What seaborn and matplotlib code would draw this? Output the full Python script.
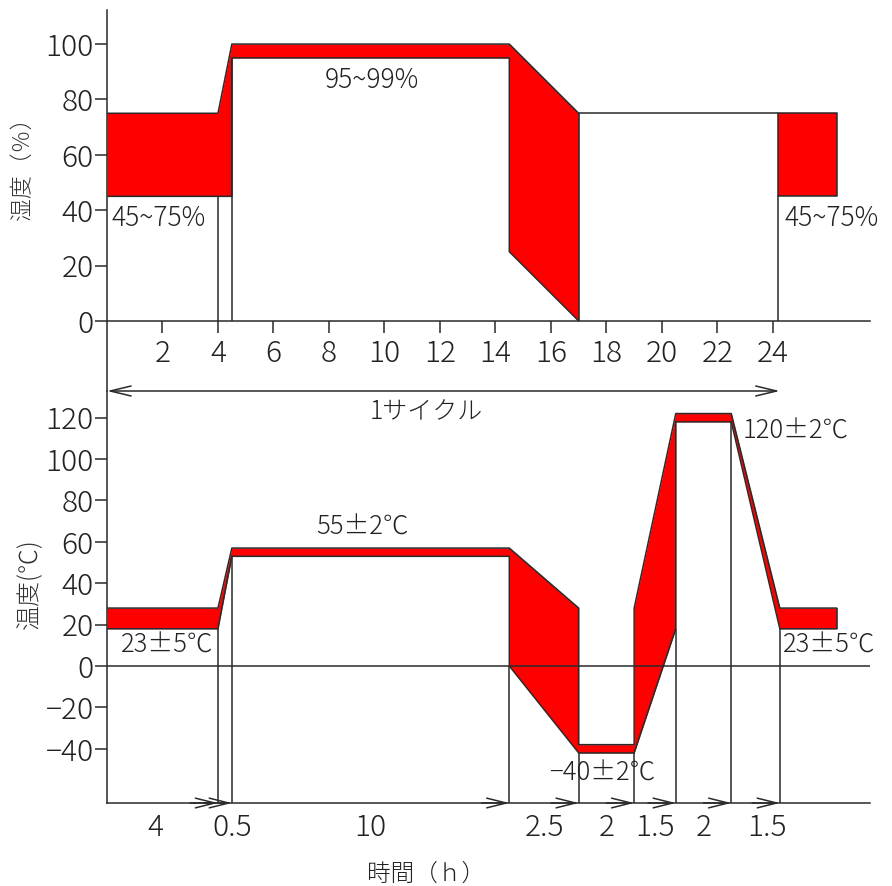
import numpy as np
import pandas as pd
import matplotlib
matplotlib.use("Agg")
import matplotlib.pyplot as plt
import seaborn as sns

# ---- humidity profile (%) over one cycle, hours ----
hum_x = [0, 4, 4.5, 4.5, 14.5, 14.5, 17]
hum_hi = [75, 75, 100, 100, 100, 100, 75]
hum_lo = [45, 45, 45, 95, 95, 25, 0]
hum_end_x = [24.2, 26.3]
hum_end_hi = [75, 75]
hum_end_lo = [45, 45]
hum_guide_x = [4, 4.5, 17, 24.2]
hum_guide_top = [45, 95, 75, 75]
hum_ticks = [0, 20, 40, 60, 80, 100]
hour_ticks = [2, 4, 6, 8, 10, 12, 14, 16, 18, 20, 22, 24]

# ---- temperature profile (degC) ----
tmp_x = [0, 4, 4.5, 14.5, 14.5, 17, 17, 19, 19, 20.5, 20.5, 22.5, 24.25, 26.3]
tmp_hi = [28, 28, 57, 57, 57, 28, -38, -38, 28, 122, 122, 122, 28, 28]
tmp_lo = [18, 18, 53, 53, 0, -42, -42, -42, -42, 18, 118, 118, 18, 18]
step_bounds = [4, 4.5, 14.5, 17, 19, 20.5, 22.5, 24.25]
step_guide_top = [18, 53, 0, -42, -42, 18, 118, 18]
step_labels = ["4", "0.5", "10", "2.5", "2", "1.5", "2", "1.5"]
tmp_ticks = [-40, -20, 0, 20, 40, 60, 80, 100, 120]

RED = "#ff0000"
LINE = "#2a2a2a"
TXT = "#222222"
LW = 1.1

sns.set_theme(style="white")
plt.rcParams["font.family"] = ["Noto Sans CJK JP", "DejaVu Sans"]
plt.rcParams["font.weight"] = "light"
plt.rcParams["axes.unicode_minus"] = True

W, H = 892, 886
fig = plt.figure(figsize=(W / 100, H / 100), dpi=100)
ax_top = fig.add_axes([107 / W, 1 - 391 / H, 763 / W, 381 / H])
ax_bot = fig.add_axes([107 / W, 1 - 803 / H, 763 / W, 412 / H])
for ax in (ax_top, ax_bot):
    ax.patch.set_alpha(0)
    ax.set_xlim(0, 27.5)
    for s in ("top", "right"):
        ax.spines[s].set_visible(False)
    for s in ("left", "bottom"):
        ax.spines[s].set_color(LINE)
        ax.spines[s].set_linewidth(LW)


def outline(ax, parts):
    rows = []
    for name, xs, ys in parts:
        rows += [{"hour": x, "value": y, "edge": name} for x, y in zip(xs, ys)]
    df = pd.DataFrame(rows)
    sns.lineplot(data=df, x="hour", y="value", units="edge", estimator=None,
                 sort=False, color=LINE, lw=LW, ax=ax, legend=False)
    ax.set_xlabel("")
    ax.set_ylabel("")


# ---------------- humidity ----------------
ax = ax_top
ax.set_ylim(-25.3, 112.3)
ax.spines["bottom"].set_position(("data", 0))
ax.fill_between(hum_x, hum_lo, hum_hi, color=RED, lw=0)
ax.fill_between(hum_end_x, hum_end_lo, hum_end_hi, color=RED, lw=0)
outline(ax, [("hi", hum_x, hum_hi), ("lo", hum_x, hum_lo),
             ("ehi", hum_end_x, hum_end_hi), ("elo", hum_end_x, hum_end_lo)])
ax.vlines(hum_guide_x, 0, hum_guide_top, color=LINE, lw=LW)
ax.vlines(hum_end_x[-1], hum_end_lo[-1], hum_end_hi[-1], color=LINE, lw=LW)
ax.hlines(hum_hi[-1], hum_x[-1], hum_end_x[0], color=LINE, lw=LW)

ax.set_yticks(hum_ticks)
ax.set_yticklabels([str(v) for v in hum_ticks])
ax.set_xticks(hour_ticks)
ax.set_xticklabels([str(v) for v in hour_ticks])
ax.tick_params(axis="y", left=True, length=8.6, width=LW, color=LINE,
               pad=1, labelsize=21.5, labelcolor=TXT)
ax.tick_params(axis="x", bottom=True, length=8.6, width=LW, color=LINE,
               pad=4, labelsize=21.5, labelcolor=TXT)

ax.text(9.55, 87, "95~99%", ha="center", va="center", fontsize=19, color=TXT)
ax.text(0.18, 37, "45~75%", ha="left", va="center", fontsize=19, color=TXT)
ax.text(24.43, 37, "45~75%", ha="left", va="center", fontsize=19, color=TXT)
ax.text(-3.06, 57, "湿度（％）", rotation=90, ha="center", va="center",
        fontsize=16.5, color="#333333")

# one-cycle arrow
ax.annotate("", xy=(0, -25.3), xytext=(step_bounds[-1], -25.3),
            arrowprops=dict(arrowstyle="<->,head_length=1.5,head_width=0.36",
                            lw=LW, color=LINE, shrinkA=0, shrinkB=0,
                            mutation_scale=10),
            annotation_clip=False)
ax.text(11.5, -33, "1サイクル", ha="center", va="center", fontsize=18, color=TXT)

# ---------------- temperature ----------------
ax = ax_bot
ymin = -66.2
ax.set_ylim(ymin, 132.9)
ax.fill_between(tmp_x, tmp_lo, tmp_hi, color=RED, lw=0)
outline(ax, [("hi", tmp_x, tmp_hi), ("lo", tmp_x, tmp_lo)])
ax.vlines(step_bounds, ymin, step_guide_top, color=LINE, lw=LW)
ax.vlines(tmp_x[-1], tmp_lo[-1], tmp_hi[-1], color=LINE, lw=LW)
ax.axhline(0, color=LINE, lw=LW)

for b in step_bounds:
    ax.annotate("", xy=(b, ymin), xytext=(b - 1.0, ymin),
                arrowprops=dict(arrowstyle="->,head_length=1.4,head_width=0.35",
                                lw=LW, color=LINE, shrinkA=0, shrinkB=0,
                                mutation_scale=10),
                annotation_clip=False)

# duration labels sit near the middle of each step, nudged as in the drawing
nudge = [-0.25, 0.25, 0, 0, 0, 0, 0, 0.4]
edges = [0] + step_bounds
for lab, a, b, dx in zip(step_labels, edges[:-1], edges[1:], nudge):
    ax.text((a + b) / 2 + dx, -78.3, lab, ha="center", va="center",
            fontsize=21.5, color=TXT)

ax.set_yticks(tmp_ticks)
ax.set_yticklabels([str(v).replace("-", "\u2212") for v in tmp_ticks])
ax.tick_params(axis="y", left=True, length=8.6, width=LW, color=LINE,
               pad=1, labelsize=21.5, labelcolor=TXT)
ax.tick_params(axis="x", bottom=False, labelbottom=False)

ax.text(9.2, 67, "55±2℃", ha="center", va="center", fontsize=18.5, color=TXT)
ax.text(2.16, 10, "23±5℃", ha="center", va="center", fontsize=18.5, color=TXT)
ax.text(24.36, 10, "23±5℃", ha="left", va="center", fontsize=18.5, color=TXT)
ax.text(17.85, -51.7, "−40±2℃", ha="center", va="center", fontsize=18.5, color=TXT)
ax.text(22.9, 113.5, "120±2℃", ha="left", va="center", fontsize=18.5, color=TXT)
ax.text(-2.77, 40, "温度(℃)", rotation=90, ha="center", va="center",
        fontsize=18, color="#333333")
ax.text(11.5, -100.5, "時間（ｈ）", ha="center", va="center", fontsize=17,
        color=TXT)

fig.savefig("out.png", dpi=100)
